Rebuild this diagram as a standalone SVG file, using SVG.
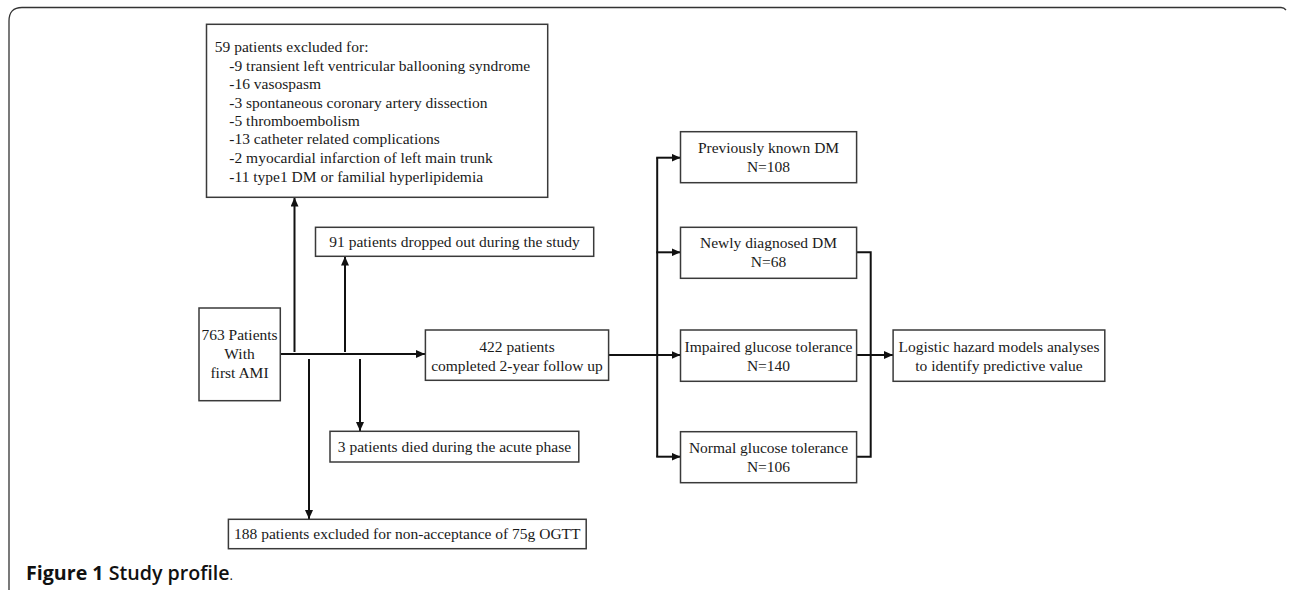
<svg xmlns="http://www.w3.org/2000/svg" width="1290" height="593" viewBox="0 0 1290 593">
<style>
.box{fill:#fff;stroke:#3a3a3a;stroke-width:1.5}
.t{font-family:"Liberation Serif","Times New Roman",serif;font-size:15.5px;fill:#1a1a1a}
.c{text-anchor:middle}
.ln{fill:none;stroke:#111;stroke-width:2}
.ar{fill:none;stroke:#111;stroke-width:2;marker-end:url(#ah)}
.frame{fill:none;stroke:#333;stroke-width:1.3}
.cap{font-family:"Open Sans","Noto Sans",sans-serif;font-size:19.5px;fill:#111}
</style>
<defs>
<marker id="ah" markerUnits="userSpaceOnUse" markerWidth="10" markerHeight="8" refX="9" refY="4" orient="auto">
<path d="M0,0 L9,4 L0,8 Z" fill="#111"/>
</marker>
</defs>
<rect width="1290" height="593" fill="#fff"/>
<path class="frame" d="M9 590 L9 21 Q9 7.5 22 7.5 L1281 7.5 Q1284 7.5 1286 10"/>
<g id="connectors">
<path class="ar" d="M280 354 H425"/>
<path class="ar" d="M294.5 352 V197.5"/>
<path class="ar" d="M345 352 V256.5"/>
<path class="ar" d="M309 359 V519"/>
<path class="ar" d="M360 359 V431"/>
<path class="ln" d="M608.6 355 H657.2"/>
<path class="ln" d="M657.2 157.7 V456.7"/>
<path class="ar" d="M656.2 157.7 H680.5"/>
<path class="ar" d="M656.2 252.3 H680.5"/>
<path class="ar" d="M656.2 355 H680.5"/>
<path class="ar" d="M656.2 456.7 H680.5"/>
<path class="ln" d="M856.6 252.3 H870.7 V456.7 H856.6"/>
<path class="ar" d="M856.6 355 H893"/>
</g>
<g id="n_excluded59">
<rect class="box" x="206.5" y="24.3" width="341.2" height="173"/>
<text class="t" x="214.8" y="51.7">59 patients excluded for:</text>
<text class="t" x="229.3" y="70.7">-9 transient left ventricular ballooning syndrome</text>
<text class="t" x="229.3" y="89.3">-16 vasospasm</text>
<text class="t" x="229.3" y="107.7">-3 spontaneous coronary artery dissection</text>
<text class="t" x="229.3" y="126">-5 thromboembolism</text>
<text class="t" x="229.3" y="144.3">-13 catheter related complications</text>
<text class="t" x="229.3" y="163">-2 myocardial infarction of left main trunk</text>
<text class="t" x="229.3" y="181.7">-11 type1 DM or familial hyperlipidemia</text>
</g>
<g id="n_dropped91">
<rect class="box" x="315.5" y="227.3" width="278.2" height="29"/>
<text class="t c" x="454.6" y="246.5">91 patients dropped out during the study</text>
</g>
<g id="n_patients763">
<rect class="box" x="199" y="308" width="81.3" height="92.7"/>
<text class="t c" x="239.5" y="340">763 Patients</text>
<text class="t c" x="239.5" y="359">With</text>
<text class="t c" x="239.5" y="377.7">first AMI</text>
</g>
<g id="n_completed422">
<rect class="box" x="425.4" y="330" width="183.2" height="50.3"/>
<text class="t c" x="517" y="351.7">422 patients</text>
<text class="t c" x="517" y="370.7">completed 2-year follow up</text>
</g>
<g id="n_died3">
<rect class="box" x="330" y="431.3" width="248.8" height="30.7"/>
<text class="t c" x="454.4" y="451.7">3 patients died during the acute phase</text>
</g>
<g id="n_excluded188">
<rect class="box" x="228.4" y="519.3" width="357.8" height="29.4"/>
<text class="t c" x="407.3" y="539.3">188 patients excluded for non-acceptance of 75g OGTT</text>
</g>
<g id="n_known">
<rect class="box" x="680.5" y="131.7" width="176.1" height="51"/>
<text class="t c" x="768.5" y="152.7">Previously known DM</text>
<text class="t c" x="768.5" y="171.7">N=108</text>
</g>
<g id="n_newly">
<rect class="box" x="680.5" y="227.3" width="176.1" height="51"/>
<text class="t c" x="768.5" y="248.3">Newly diagnosed DM</text>
<text class="t c" x="768.5" y="267.3">N=68</text>
</g>
<g id="n_igt">
<rect class="box" x="680.5" y="330" width="176.1" height="51.3"/>
<text class="t c" x="768.5" y="351.7">Impaired glucose tolerance</text>
<text class="t c" x="768.5" y="370.7">N=140</text>
</g>
<g id="n_ngt">
<rect class="box" x="680.5" y="431.7" width="176.1" height="51"/>
<text class="t c" x="768.5" y="453">Normal glucose tolerance</text>
<text class="t c" x="768.5" y="471.7">N=106</text>
</g>
<g id="n_logistic">
<rect class="box" x="893.1" y="330" width="211.7" height="51.3"/>
<text class="t c" x="999" y="351.7">Logistic hazard models analyses</text>
<text class="t c" x="999" y="370.7">to identify predictive value</text>
</g>
<text class="cap" x="26" y="580" textLength="207" lengthAdjust="spacingAndGlyphs"><tspan font-weight="bold">Figure 1</tspan><tspan font-weight="600"> Study profile</tspan><tspan font-size="13">.</tspan></text>
</svg>
